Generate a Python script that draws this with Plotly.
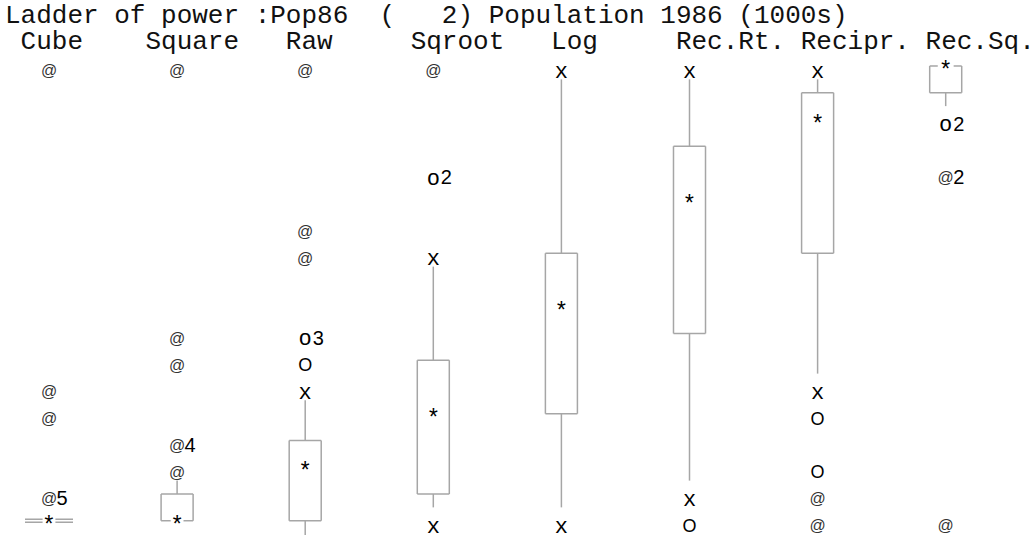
import plotly.graph_objects as go

# ---------------- data ----------------
columns = ["Cube", "Square", "Raw", "Sqroot", "Log", "Rec.Rt.", "Recipr.", "Rec.Sq."]
title_text = "Ladder of power :Pop86  (   2) Population 1986 (1000s)"
header_text = " Cube    Square   Raw     Sqroot   Log     Rec.Rt. Recipr. Rec.Sq."

# box statistics expressed on the display's row scale (row 0 = top data line)
upper_whisker = [None, 15.5, 12.5, 7.5, 0.5, 0.5, 0.5, None]
upper_hinge = [17, 16, 14, 11, 7, 3, 1, 0]
medians = [17, 17, 15, 13, 9, 5, 2, 0]
lower_hinge = [17, 17, 17, 16, 13, 10, 7, 1]
lower_whisker = [None, None, 17.6, 16.5, 16.5, 15.5, 11.5, 1.5]

# individually plotted values: column index, row, glyph, count label
point_col = [0, 0, 0, 0,
             1, 1, 1, 1, 1,
             2, 2, 2, 2, 2, 2,
             3, 3, 3, 3,
             4, 4,
             5, 5, 5,
             6, 6, 6, 6, 6, 6,
             7, 7, 7]
point_row = [0, 12, 13, 16,
             0, 10, 11, 14, 15,
             0, 6, 7, 10, 11, 12,
             0, 4, 7, 17,
             0, 17,
             0, 16, 17,
             0, 12, 13, 15, 16, 17,
             2, 4, 17]
point_glyph = ["@", "@", "@", "@",
               "@", "@", "@", "@", "@",
               "@", "@", "@", "o", "O", "x",
               "@", "o", "x", "x",
               "x", "x",
               "x", "x", "O",
               "x", "x", "O", "O", "@", "@",
               "o", "@", "@"]
point_count = ["", "", "", "5",
               "", "", "", "4", "",
               "", "", "", "3", "", "",
               "", "2", "", "",
               "", "",
               "", "", "",
               "", "", "", "", "", "",
               "2", "2", ""]

# ---------------- styling ----------------
MONO = "Nimbus Mono PS, Courier New, Liberation Mono, monospace"
SANS = "Liberation Sans, Arial, sans-serif"
LINE = "#a6a6a6"
TEXT_DY = 0.24          # text anchor offset (rows) so glyphs sit on the row
BOX_HW = 0.125          # half box width (column units)
GAP = 0.05              # gap left around a '*' sitting on a box edge
DEG_HW = 0.1875         # half width of a collapsed box
DEG_DY = 0.056

xs, ys = [], []


def seg(x0, y0, x1, y1):
    xs.extend([x0, x1, None])
    ys.extend([y0, y1, None])


for i in range(len(columns)):
    q3, q1, md = upper_hinge[i], lower_hinge[i], medians[i]
    if q3 == q1:
        for d in (-DEG_DY, DEG_DY):
            seg(i - DEG_HW, q3 + d, i - GAP, q3 + d)
            seg(i + GAP, q3 + d, i + DEG_HW, q3 + d)
    else:
        seg(i - BOX_HW, q3, i - BOX_HW, q1)
        seg(i + BOX_HW, q3, i + BOX_HW, q1)
        for edge in (q3, q1):
            if edge == md:
                g = GAP + (0.012 if edge == q3 else 0)
                seg(i - BOX_HW, edge, i - g, edge)
                seg(i + g, edge, i + BOX_HW, edge)
            else:
                seg(i - BOX_HW, edge, i + BOX_HW, edge)
    if upper_whisker[i] is not None:
        seg(i, upper_whisker[i], i, q3)
    if lower_whisker[i] is not None:
        seg(i, q1, i, lower_whisker[i])

fig = go.Figure()
fig.add_trace(go.Scatter(x=xs, y=ys, mode="lines",
                         line=dict(color=LINE, width=1.5),
                         hoverinfo="skip", showlegend=False))

# medians
fig.add_trace(go.Scatter(x=list(range(len(columns))),
                         y=[m + TEXT_DY for m in medians],
                         mode="text", text=["*"] * len(columns),
                         textposition="middle center",
                         textfont=dict(family=MONO, size=23, color="#000"),
                         showlegend=False, hoverinfo="skip"))

glyph_fonts = {"x": (MONO, 22, "#000"), "@": (SANS, 16, "#333"),
               "o": (SANS, 22, "#000"), "O": (SANS, 18, "#000")}
for g, (fam, size, colr) in glyph_fonts.items():
    idx = [k for k, v in enumerate(point_glyph) if v == g]
    fig.add_trace(go.Scatter(x=[point_col[k] for k in idx],
                             y=[point_row[k] + TEXT_DY for k in idx],
                             mode="text", text=[g] * len(idx),
                             textposition="middle center",
                             textfont=dict(family=fam, size=size, color=colr),
                             showlegend=False, hoverinfo="skip"))

cidx = [k for k, v in enumerate(point_count) if v]
fig.add_trace(go.Scatter(x=[point_col[k] + 0.058 for k in cidx],
                         y=[point_row[k] + TEXT_DY for k in cidx],
                         mode="text", text=[point_count[k] for k in cidx],
                         textposition="middle right",
                         textfont=dict(family=SANS, size=20, color="#000"),
                         showlegend=False, hoverinfo="skip"))

# title and header lines (rows -2 and -1 of the text grid)
fig.add_trace(go.Scatter(x=[-0.3435, -0.3435],
                         y=[-2 + TEXT_DY - 0.1, -1 + TEXT_DY - 0.1],
                         mode="text",
                         text=[title_text.replace(" ", "\u00a0"),
                               header_text.replace(" ", "\u00a0")],
                         textposition="middle right",
                         textfont=dict(family=MONO, size=26, color="#111"),
                         showlegend=False, hoverinfo="skip"))

fig.update_layout(
    width=1032, height=535,
    margin=dict(l=0, r=0, t=0, b=0),
    paper_bgcolor="white", plot_bgcolor="white",
    xaxis=dict(range=[-0.3825, 7.6737], visible=False, fixedrange=True),
    yaxis=dict(range=[17.533, -2.467], visible=False, fixedrange=True),
    showlegend=False,
)
fig.write_html("out.html")
